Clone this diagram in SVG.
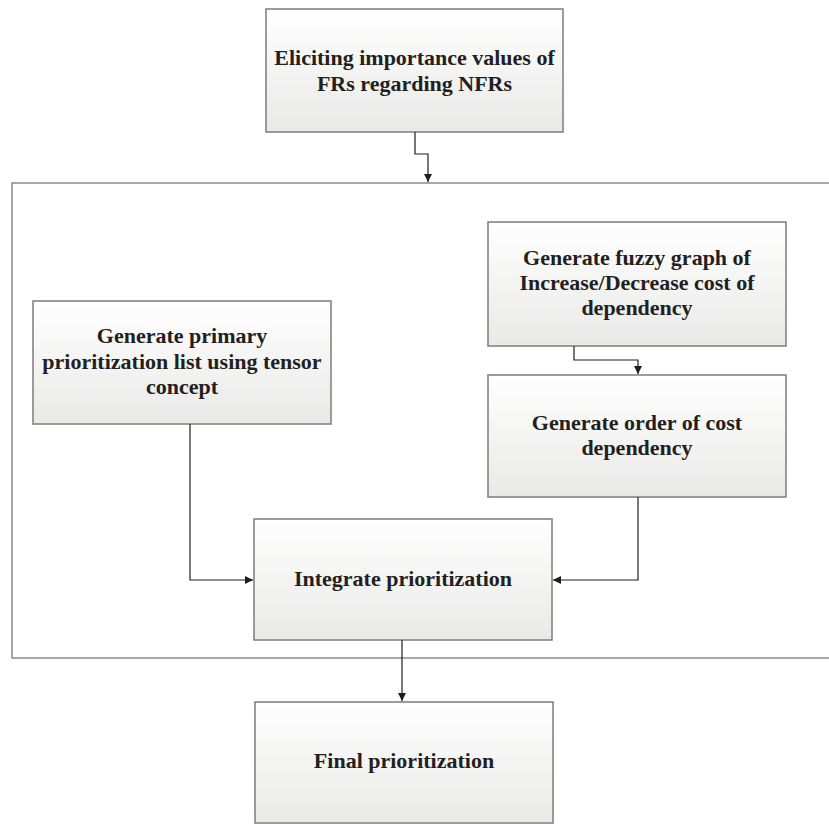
<svg xmlns="http://www.w3.org/2000/svg" width="829" height="824" viewBox="0 0 829 824">
<defs>
<linearGradient id="g" x1="0" y1="0" x2="0" y2="1">
<stop offset="0" stop-color="#ffffff"/>
<stop offset="1" stop-color="#e9e9e7"/>
</linearGradient>
<marker id="arr" viewBox="0 0 10 10" refX="10" refY="5" markerWidth="8" markerHeight="8" markerUnits="userSpaceOnUse" orient="auto">
<path d="M0,0 L10,5 L0,10 z" fill="#1e1e1e"/>
</marker>
<style>
.box{fill:url(#g);stroke:#7c7c7c;stroke-width:1.5}
.t{font-family:"Liberation Serif","Times New Roman",serif;font-weight:bold;font-size:22px;fill:#231f20;text-anchor:middle}
.c{fill:none;stroke:#1e1e1e;stroke-width:1.2}
.frame{fill:none;stroke:#8a8a8a;stroke-width:1.5}
</style>
</defs>
<rect width="829" height="824" fill="#ffffff"/>
<path class="frame" d="M829,183 H12 V658 H829"/>
<g id="n1">
<rect class="box" x="266" y="9" width="297" height="123"/>
<text class="t" x="414.5" y="65">Eliciting importance values of</text>
<text class="t" x="414.5" y="91">FRs regarding NFRs</text>
</g>
<g id="n2">
<rect class="box" x="33" y="301" width="298" height="123"/>
<text class="t" x="182" y="343">Generate primary</text>
<text class="t" x="182" y="369">prioritization list using tensor</text>
<text class="t" x="182" y="394">concept</text>
</g>
<g id="n3">
<rect class="box" x="488" y="222" width="298" height="124"/>
<text class="t" x="637" y="265">Generate fuzzy graph of</text>
<text class="t" x="637" y="290">Increase/Decrease cost of</text>
<text class="t" x="637" y="315">dependency</text>
</g>
<g id="n4">
<rect class="box" x="488" y="375" width="298" height="122"/>
<text class="t" x="637" y="430">Generate order of cost</text>
<text class="t" x="637" y="455">dependency</text>
</g>
<g id="n5">
<rect class="box" x="254" y="519" width="298" height="121"/>
<text class="t" x="403" y="586">Integrate prioritization</text>
</g>
<g id="n6">
<rect class="box" x="255" y="702" width="298" height="121"/>
<text class="t" x="404" y="768">Final prioritization</text>
</g>
<g id="connectors">
<path class="c" d="M415,132 V154 H428 V182" marker-end="url(#arr)"/>
<path class="c" d="M190,424 V580 H253" marker-end="url(#arr)"/>
<path class="c" d="M574,346 V360 H638 V374" marker-end="url(#arr)"/>
<path class="c" d="M638,497 V580 H553" marker-end="url(#arr)"/>
<path class="c" d="M402,640 V701" marker-end="url(#arr)"/>
</g>
</svg>
